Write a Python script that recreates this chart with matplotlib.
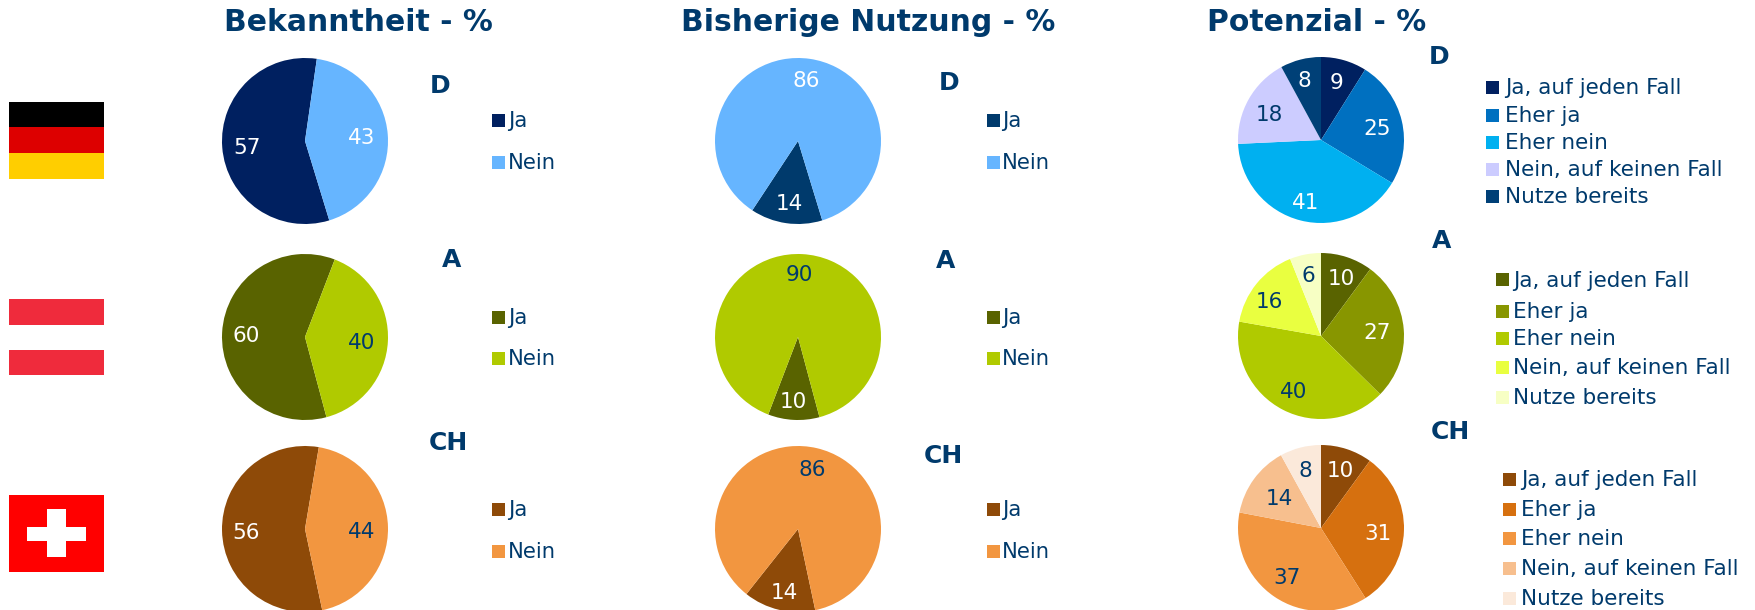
#!/usr/bin/env python3
"""Bekanntheit, Nutzung und Potenzial je Land als Tortendiagramme"""

import matplotlib
matplotlib.use('Agg')
import matplotlib.pyplot as plt
from matplotlib.patches import Rectangle

W, H = 1756, 610
TEXT_COLOR = '#003A6C'

titles = ['Bekanntheit - %', 'Bisherige Nutzung - %', 'Potenzial - %']
countries = ['D', 'A', 'CH']
yes_no = ['Ja', 'Nein']
potential = ['Ja, auf jeden Fall', 'Eher ja', 'Eher nein', 'Nein, auf keinen Fall', 'Nutze bereits']

known_d = [57, 43]
known_a = [60, 40]
known_ch = [56, 44]
used_d = [14, 86]
used_a = [10, 90]
used_ch = [14, 86]
pot_d = [9, 25, 41, 18, 8]
pot_a = [10, 27, 40, 16, 6]
pot_ch = [10, 31, 37, 14, 8]

colors_known = [['#002060', '#66B5FF'], ['#596300', '#B0CA00'], ['#8E4A08', '#F29640']]
colors_used = [['#003A6C', '#66B5FF'], ['#596300', '#B0CA00'], ['#8E4A08', '#F29640']]
colors_pot = [
    ['#002060', '#0070C0', '#00B0F0', '#CCCCFF', '#004077'],
    ['#596300', '#889600', '#B0CA00', '#E9FF40', '#F7FFC4'],
    ['#8E4A08', '#D6700F', '#F29640', '#F7BF8E', '#FBE9DA'],
]
# auf diesen hellen Flaechen sind die Zahlen dunkel
DARK_LABEL_ON = {'#CCCCFF', '#B0CA00', '#E9FF40', '#F7FFC4', '#F29640', '#F7BF8E', '#FBE9DA'}

# Feinkorrektur der Zahlen in Pixeln (dx, dy nach unten)
nudge_known = [[(2, 2), (-4, 2)], [(2, 2), (-4, 3)], [(2, 3), (-4, 4)]]
nudge_used = [[(0, 3), (0, 0)], [(-2, 4), (-2, -1)], [(0, 5), (0, 0)]]
nudge_pot = [
    [(-1, 1), (-3, 3), (0, 4), (1, 5), (-2, 0)],
    [(1, 1), (-4, 2), (0, 2), (-5, 4), (-1, -1)],
    [(1, 1), (-4, 4), (0, 0), (7, 7), (-1, 2)],
]

fig = plt.figure(figsize=(W / 100, H / 100), dpi=100)
fig.patch.set_facecolor('white')


def put_text(x, y, s, **kw):
    fig.text(x / W, 1 - y / H, s, **kw)


def put_rect(x0, y0, x1, y1, color):
    fig.add_artist(Rectangle((x0 / W, 1 - y1 / H), (x1 - x0) / W, (y1 - y0) / H,
                             transform=fig.transFigure, facecolor=color, edgecolor='none'))


def draw_pie(cx, cy, values, colors, start_cw, nudges, r=83):
    ax = fig.add_axes([(cx - r) / W, 1 - (cy + r) / H, 2 * r / W, 2 * r / H])
    wedges, _, autotexts = ax.pie(values, colors=colors, startangle=90 - start_cw,
                                  counterclock=False, radius=1, autopct='%d', pctdistance=0.73,
                                  textprops={'fontsize': 15.5})
    for t, v, c, (dx, dy) in zip(autotexts, values, colors, nudges):
        t.set_text(str(v))
        t.set_color(TEXT_COLOR if c in DARK_LABEL_ON else 'white')
        x, y = t.get_position()
        t.set_position((x + dx / r, y - dy / r))
    ax.set_xlim(-1, 1)
    ax.set_ylim(-1, 1)


def draw_legend(patch_x, text_x, ys, labels, colors, size):
    for y, label, c in zip(ys, labels, colors):
        put_rect(patch_x, y - 6.5, patch_x + 13, y + 6.5, c)
        put_text(text_x, y + 7, label, fontsize=size, color=TEXT_COLOR, va='baseline')


# Titel
for x, title in zip([224, 681, 1207], titles):
    put_text(x, 31, title, fontsize=21.5, fontweight='bold', color=TEXT_COLOR, va='baseline')

# Flaggen
put_rect(9, 102, 104, 127, '#000000')
put_rect(9, 127, 104, 153, '#DD0000')
put_rect(9, 153, 104, 179, '#FFCE00')
put_rect(9, 299, 104, 325, '#EF2B3C')
put_rect(9, 350, 104, 375, '#EF2B3C')
put_rect(9, 495, 104, 572, '#FF0000')
put_rect(27, 527, 86, 541, '#FFFFFF')
put_rect(47.5, 509, 65.5, 557, '#FFFFFF')

# Torten
col_x = [305, 798, 1321]
row_y = [141, 337, 529]
start_angles = [163, 165, 168]
known = [known_d, known_a, known_ch]
used = [used_d, used_a, used_ch]
pot = [pot_d, pot_a, pot_ch]
for i in range(3):
    draw_pie(col_x[0], row_y[i], known[i], colors_known[i], start_angles[i], nudge_known[i])
    draw_pie(col_x[1], row_y[i], used[i], colors_used[i], start_angles[i], nudge_used[i])
    draw_pie(col_x[2], row_y[i] - 1, pot[i], colors_pot[i], 0, nudge_pot[i])

# Laenderkuerzel
letter_pos = [
    [(430, 93), (442, 267), (429, 450)],
    [(939, 90), (936, 268), (924, 463)],
    [(1429, 64), (1432, 248), (1431, 439)],
]
for col in letter_pos:
    for (x, y), name in zip(col, countries):
        put_text(x, y, name, fontsize=18, fontweight='bold', color=TEXT_COLOR, va='baseline')

# Legenden
yn_rows = [[120, 162], [317, 358], [509, 551]]
for i in range(3):
    draw_legend(492, 508, yn_rows[i], yes_no, colors_known[i], 15.2)
    draw_legend(987, 1002, yn_rows[i], yes_no, colors_used[i], 15.2)

draw_legend(1486, 1505, [87, 115, 142, 169, 196], potential, colors_pot[0], 15.5)
draw_legend(1496, 1513, [280, 311, 338, 367, 397], potential, colors_pot[1], 15.5)
draw_legend(1503, 1521, [479, 509, 538, 568, 598], potential, colors_pot[2], 15.5)

plt.savefig('out.png', dpi=100)
plt.close()
